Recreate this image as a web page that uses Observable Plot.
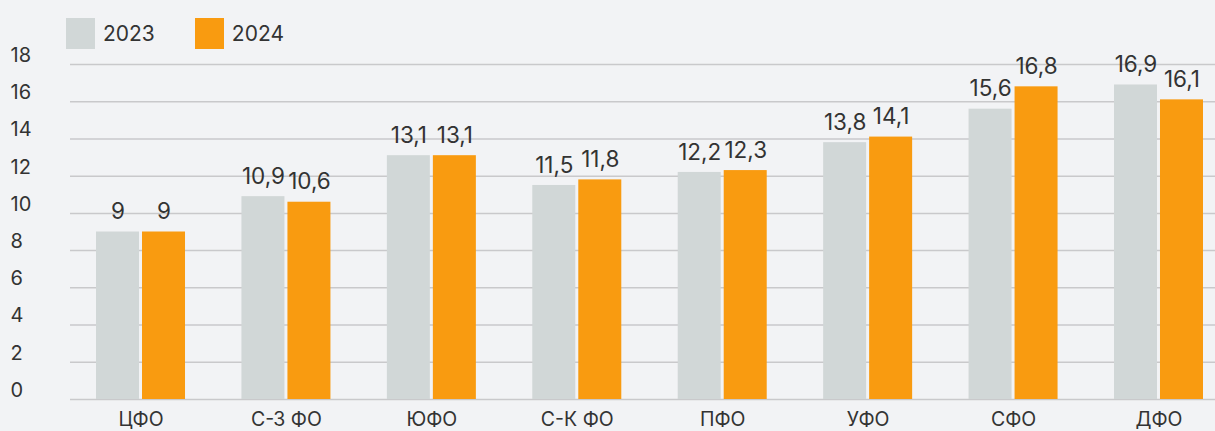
<!DOCTYPE html>
<html>
<head>
<meta charset="utf-8">
<script src="https://cdn.jsdelivr.net/npm/d3@7"></script>
<script src="https://cdn.jsdelivr.net/npm/@observablehq/plot@0.6"></script>
<style>
  html, body { margin: 0; padding: 0; background: #f2f3f5; }
  body { width: 1215px; height: 431px; position: relative; overflow: hidden; font-family: Inter, "Noto Sans", sans-serif; }
  #legend { position: absolute; left: 66px; top: 18px; display: flex; align-items: center; font-size: 21px; color: #333; z-index: 2; }
  .item { display: flex; align-items: center; margin-right: 40px; }
  .sw { width: 29px; height: 31px; margin-right: 8px; }
  #chart { position: absolute; left: 0; top: 0; }
</style>
</head>
<body>
<div id="legend"></div>
<div id="chart"></div>
<script>
const regions = ["ЦФО", "С-З ФО", "ЮФО", "С-К ФО", "ПФО", "УФО", "СФО", "ДФО"];
const values2023 = [9, 10.9, 13.1, 11.5, 12.2, 13.8, 15.6, 16.9];
const values2024 = [9, 10.6, 13.1, 11.8, 12.3, 14.1, 16.8, 16.1];
const years = ["2023", "2024"];
const colors = ["#d1d7d7", "#f99b10"];
const yTicks = [0, 2, 4, 6, 8, 10, 12, 14, 16, 18];

const data = regions.map((r, i) => ({region: r, v2023: values2023[i], v2024: values2024[i]}));
const fmt = v => String(v).replace(".", ",");

const legend = document.getElementById("legend");
years.forEach((y, i) => {
  const it = document.createElement("div");
  it.className = "item";
  it.innerHTML = `<div class="sw" style="background:${colors[i]}"></div><span>${y}</span>`;
  legend.appendChild(it);
});

const half = 46;
const chart = Plot.plot({
  width: 1215,
  height: 431,
  marginTop: 64,
  marginBottom: 32,
  marginLeft: 70,
  marginRight: 0,
  style: {background: "transparent", fontFamily: "Inter, 'Noto Sans', sans-serif", fontSize: "19px", color: "#333"},
  x: {domain: regions, range: [67.8, 1231.2], paddingInner: 0.388, paddingOuter: 0.194, round: false, label: null, axis: null},
  y: {domain: [0, 18], ticks: yTicks, label: null, axis: null},
  marks: [
    Plot.ruleY(yTicks, {stroke: "#c9c9cb", strokeWidth: 1.5}),
    Plot.text(yTicks, {frameAnchor: "left", y: d => d, text: d => String(d), dx: -60, dy: -9, textAnchor: "start", fill: "#333", fontSize: 20}),
    Plot.text(regions, {x: d => d, frameAnchor: "bottom", text: d => d, dy: 20, lineAnchor: "middle", fill: "#333", fontSize: 19.5}),
    Plot.barY(data, {x: "region", y: "v2023", fill: colors[0], insetRight: half}),
    Plot.barY(data, {x: "region", y: "v2024", fill: colors[1], insetLeft: half}),
    Plot.text(data, {x: "region", y: "v2023", text: d => fmt(d.v2023), dx: -23, dy: -20, fill: "#333", fontSize: 22.5}),
    Plot.text(data, {x: "region", y: "v2024", text: d => fmt(d.v2024), dx: 23, dy: -20, fill: "#333", fontSize: 22.5})
  ]
});
document.getElementById("chart").appendChild(chart);
</script>
</body>
</html>
